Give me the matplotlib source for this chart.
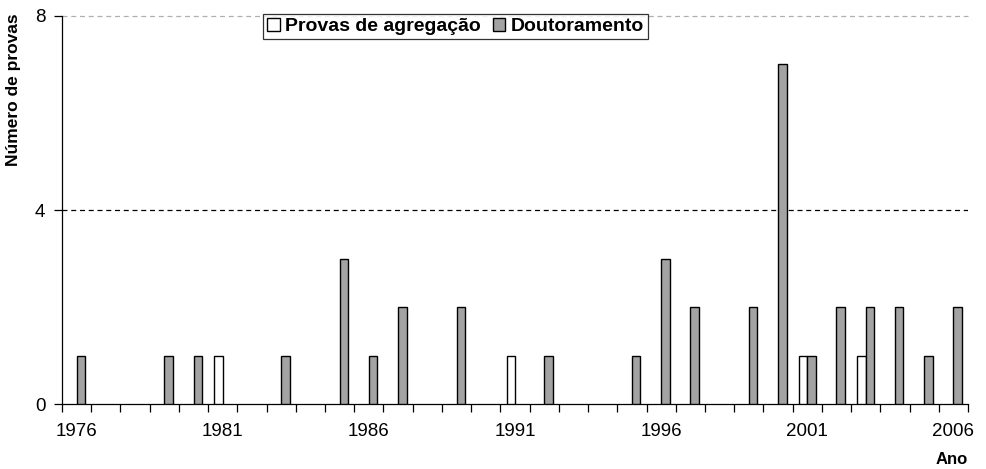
import matplotlib.pyplot as plt
import numpy as np

plt.rcParams['font.family'] = ['Liberation Sans', 'DejaVu Sans']

anos = list(range(1976, 2007))
# Provas de agregacao (white bars)
agregacao = [0, 0, 0, 0, 0, 1, 0, 0, 0, 0,
             0, 0, 0, 0, 0, 1, 0, 0, 0, 0,
             0, 0, 0, 0, 0, 1, 0, 1, 0, 0, 0]
# Doutoramento (grey bars)
doutoramento = [1, 0, 0, 1, 1, 0, 0, 1, 0, 3,
                1, 2, 0, 2, 0, 0, 1, 0, 0, 1,
                3, 2, 0, 2, 7, 1, 2, 2, 2, 1, 2]
tick_labels = ['1976', '1981', '1986', '1991', '1996', '2001', '2006']

fig = plt.figure(figsize=(9.86, 4.69), dpi=100)
ax = fig.add_axes([62/986, 65/469, 906/986, 388/469])

x = np.arange(len(anos))
agr = np.array(agregacao)
dou = np.array(doutoramento)
w = 0.29
# zero values are not drawn (no flat outline on the axis)
ax.bar((x - w/2)[agr > 0], agr[agr > 0], w, color='white', edgecolor='black',
       linewidth=1, label='Provas de agregação', zorder=3)
ax.bar((x + w/2)[dou > 0], dou[dou > 0], w, color='#a3a3a3', edgecolor='black',
       linewidth=1, label='Doutoramento', zorder=3)

ax.set_xlim(-0.5, len(anos) - 0.5)
ax.set_ylim(0, 8)
ax.set_yticks([0, 4, 8])
ax.set_yticklabels(['0', '4', '8'], fontsize=13.5)
ax.axhline(4, color='black', linestyle=(0, (4, 3)), linewidth=0.9, zorder=1)
ax.axhline(8, color='#b0b0b0', linestyle=(0, (4, 3)), linewidth=0.9, zorder=1, clip_on=False)

# category boundaries as ticks, labels every 5 years
ax.set_xticks(np.arange(-0.5, len(anos) + 0.5, 1), minor=False)
ax.set_xticklabels([])
ax.set_xticks([anos.index(int(t)) for t in tick_labels], minor=True)
ax.set_xticklabels(tick_labels, minor=True, fontsize=13.5)
ax.tick_params(axis='x', which='minor', length=0, pad=14)
ax.tick_params(axis='x', which='major', length=6, direction='out', width=0.9)
ax.tick_params(axis='y', length=6, width=0.9, direction='out', pad=6)

for s in ['top', 'right']:
    ax.spines[s].set_visible(False)
ax.spines['left'].set_linewidth(0.9)
ax.spines['bottom'].set_linewidth(0.9)

fig.text(0.006, 0.972, 'Número de provas', rotation=90, ha='left', va='top',
         fontsize=12.5, fontweight='bold')
fig.text(0.982, 0.004, 'Ano', ha='right', va='bottom', fontsize=12, fontweight='bold')

leg = ax.legend(loc='upper left', bbox_to_anchor=(263/986, 1 - 14/469),
                bbox_transform=fig.transFigure, ncol=2, frameon=True, fancybox=False,
                prop={'weight': 'bold', 'size': 14}, handlelength=0.65, handleheight=0.65,
                handletextpad=0.3, columnspacing=0.6, borderpad=0.2, borderaxespad=0)
leg.get_frame().set_edgecolor('black')
leg.get_frame().set_linewidth(0.9)

plt.savefig('out.png', dpi=100)
